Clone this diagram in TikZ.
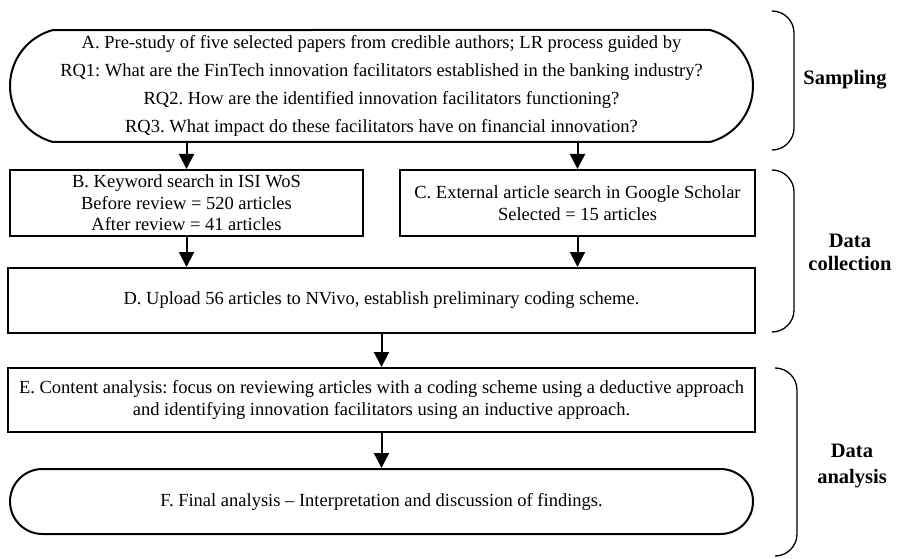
\documentclass[tikz,border=0pt]{standalone}
\usepackage{fontspec}
\setmainfont{Liberation Serif}
\frenchspacing
\usetikzlibrary{arrows.meta, positioning, shapes.misc}
\tikzset{
  every picture/.style={line width=2pt},
  box/.style={draw, rectangle, align=center, inner sep=2pt, minimum width=747pt, font=\fontsize{18.5}{21.5}\selectfont},
  term/.style={draw, rounded rectangle, rounded rectangle arc length=#1, align=center, inner sep=2pt, minimum width=747pt, font=\fontsize{18.5}{28}\selectfont},
  term/.default=180,
  arrow/.style={-{Triangle[length=15pt, width=15pt]}, line width=2pt},
  bracket/.style={line width=1.3pt, rounded corners=22pt},
  phase/.style={font=\fontsize{20.5}{23}\selectfont\bfseries, align=center},
}

\begin{document}
\begin{tikzpicture}[x=1pt, y=-1pt]
  \useasboundingbox (0,0) rectangle (897,559);
  % steps
  \node[term=150, minimum height=112pt] (A) at (381.5,86) {A. Pre-study of five selected papers from credible authors; LR process guided by\\RQ1: What are the FinTech innovation facilitators established in the banking industry?\\RQ2. How are the identified innovation facilitators functioning?\\RQ3. What impact do these facilitators have on financial innovation?};
  \node[box, minimum width=353pt, minimum height=66pt] (B) at (186.5,203) {B. Keyword search in ISI WoS\\Before review = 520 articles\\After review = 41 articles};
  \node[box, minimum width=355pt, minimum height=66pt] (C) at (577.5,203) {C. External article search in Google Scholar\\Selected = 15 articles};
  \node[box, minimum height=65pt] (D) at (381.5,300.5) {D. Upload 56 articles to NVivo, establish preliminary coding scheme.};
  \node[box, minimum height=64pt] (E) at (381.5,400) {E. Content analysis: focus on reviewing articles with a coding scheme using a deductive approach\\and identifying innovation facilitators using an inductive approach.};
  \node[term, minimum height=65pt, font=\fontsize{18.5}{21.5}\selectfont] (F) at (381.5,501.5) {F. Final analysis -- Interpretation and discussion of findings.};
  % flow
  \draw[arrow] (A.south -| B.north) -- (B.north);
  \draw[arrow] (A.south -| C.north) -- (C.north);
  \draw[arrow] (B.south) -- (B.south |- D.north);
  \draw[arrow] (C.south) -- (C.south |- D.north);
  \draw[arrow] (D.south) -- (E.north);
  \draw[arrow] (E.south) -- (F.north);
  % phases
  \foreach \n/\xl/\xr/\yt/\yb in {samp/773/794/11/150, coll/773/794/170/332, anal/777/797/368/556} {
    \draw[bracket] (\xl,\yt) -- (\xr,\yt) -- (\xr,\yb) -- (\xl,\yb);
  }
  \node[phase] (samp) at (845,80) {Sampling};
  \node[phase] (coll) at (850,252) {Data\\collection};
  \node[phase] (anal) at (852,466) {Data\\[3pt]analysis};
\end{tikzpicture}
\end{document}
